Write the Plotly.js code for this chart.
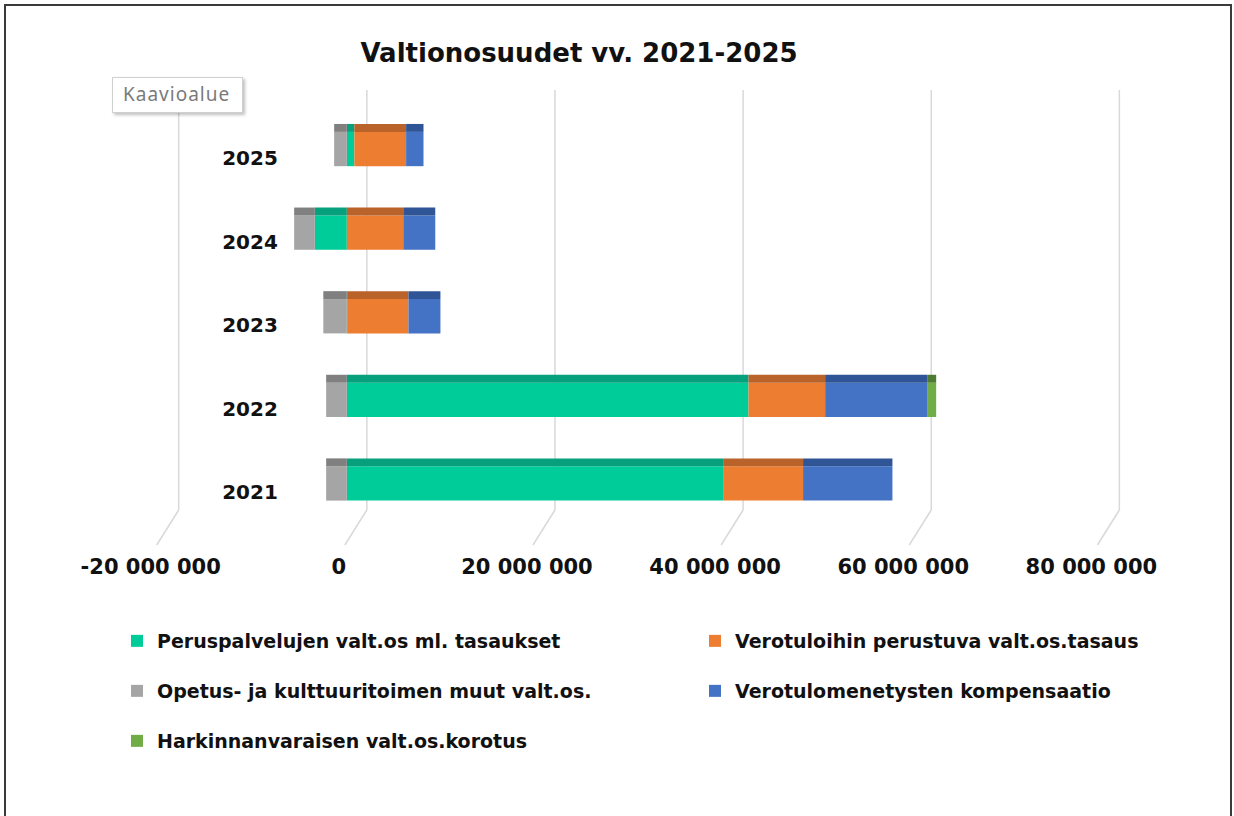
<!DOCTYPE html>
<html>
<head>
<meta charset="utf-8">
<script src="https://cdn.plot.ly/plotly-3.0.1.min.js"></script>
<style>
  html, body { margin: 0; padding: 0; width: 1234px; height: 816px; overflow: hidden; background: #fff; }
  #chart { position: absolute; left: 0; top: 0; width: 1234px; height: 816px; }
  #frame { position: absolute; left: 4px; top: 4px; width: 1224px; height: 900px; border: 2px solid #3a3a3a; pointer-events: none; }
  #tip { position: absolute; left: 112px; top: 77px; padding: 3px 12px 5px 10px; background: #fff;
         border: 1px solid #d0d0d0; box-shadow: 2px 2px 3px rgba(0,0,0,0.25);
         font-family: 'Noto Sans', sans-serif; font-size: 19px; letter-spacing: 1px; color: #7a7a7a; }
</style>
</head>
<body>
<div id="chart"></div>
<div id="frame"></div>
<div id="tip">Kaavioalue</div>
<script>
// ---- data ----
const years = ['2021', '2022', '2023', '2024', '2025'];
const peruspalvelut = [40.0e6, 42.7e6, 0.1e6, -3.4e6, 0.8e6];
const verotuloTasaus = [8.5e6, 8.15e6, 6.45e6, 6.0e6, 5.5e6];
const opetusKulttuuri = [-2.2e6, -2.2e6, -2.5e6, -2.2e6, -1.35e6];
const kompensaatio = [9.5e6, 10.9e6, 3.4e6, 3.4e6, 1.85e6];
const harkinnanvarainen = [0, 0.9e6, 0, 0, 0];

const seriesNames = [
  'Peruspalvelujen valt.os ml. tasaukset',
  'Verotuloihin perustuva valt.os.tasaus',
  'Opetus- ja kulttuuritoimen muut valt.os.',
  'Verotulomenetysten kompensaatio',
  'Harkinnanvaraisen valt.os.korotus'
];
const tickVals = [-20e6, 0, 20e6, 40e6, 60e6, 80e6];
const tickLabels = ['-20 000 000', '0', '20 000 000', '40 000 000', '60 000 000', '80 000 000'];

// ---- styling ----
const seriesValues = [peruspalvelut, verotuloTasaus, opetusKulttuuri, kompensaatio, harkinnanvarainen];
const frontColors = ['#00CC99', '#ED7D31', '#A5A5A5', '#4472C4', '#70AD47'];
const topColors = ['#06A07C', '#B9622A', '#808080', '#2F5597', '#4E7A32'];
const legendIds = ['legend', 'legend2', 'legend3', 'legend4', 'legend5'];
const legendPos = [[117, 641], [695, 641], [117, 691], [695, 691], [117, 741]];
const FONT = '"DejaVu Sans", Verdana, sans-serif';

const traces = [];
seriesValues.forEach((vals, i) => {
  traces.push({
    type: 'bar', orientation: 'h', name: seriesNames[i],
    y: years, x: vals, width: 0.41,
    marker: { color: frontColors[i], line: { width: 0 } },
    legend: legendIds[i], hoverinfo: 'name+x'
  });
});
// darker strips imitating the 3D top faces
seriesValues.forEach((vals, i) => {
  traces.push({
    type: 'bar', orientation: 'h', name: seriesNames[i],
    y: years, x: vals, yaxis: 'y2', width: 0.095, offset: 0.205,
    marker: { color: topColors[i], line: { width: 0 } },
    showlegend: false, hoverinfo: 'skip'
  });
});

// 3D-like gridlines: a floor diagonal and a back wall vertical at each tick
const shapes = [];
const floorTop = (545 - 510) / 455;
tickVals.forEach(v => {
  shapes.push({ type: 'line', xref: 'x', xsizemode: 'pixel', xanchor: v, x0: -2, x1: 20,
    yref: 'paper', y0: 0, y1: floorTop, line: { color: '#d9d9d9', width: 1.5 }, layer: 'below' });
  shapes.push({ type: 'line', xref: 'x', xsizemode: 'pixel', xanchor: v, x0: 20, x1: 20,
    yref: 'paper', y0: floorTop, y1: 1, line: { color: '#d9d9d9', width: 1.5 }, layer: 'below' });
});

const legendFont = { family: FONT, size: 19, color: '#111', weight: 'bold' };
const layout = {
  width: 1234, height: 816,
  margin: { l: 154, r: 97, t: 90, b: 271 },
  paper_bgcolor: '#fff', plot_bgcolor: '#fff',
  barmode: 'relative',
  showlegend: true,
  title: { text: 'Valtionosuudet vv. 2021-2025', xref: 'container', yref: 'container',
           x: 579 / 1234, y: 1 - 53 / 816, xanchor: 'center', yanchor: 'middle',
           font: { family: FONT, size: 26, color: '#111', weight: 'bold' } },
  xaxis: { range: [-20.5e6, 84e6], tickvals: tickVals, ticktext: tickLabels, showgrid: false,
           zeroline: false, showline: false, ticks: '', ticklabelstandoff: 7, ticklabelshift: -8,
           tickfont: { family: FONT, size: 21, color: '#111', weight: 'bold' } },
  yaxis: { type: 'category', range: [-0.736, 4.706], anchor: 'free', position: 0.126,
           showgrid: false, zeroline: false, showline: false, ticks: '', ticklabelshift: 9,
           tickfont: { family: FONT, size: 20, color: '#111', weight: 'bold' } },
  yaxis2: { type: 'category', overlaying: 'y', range: [-0.736, 4.706], visible: false,
            categoryarray: years, categoryorder: 'array' },
  shapes: shapes
};
legendIds.forEach((id, i) => {
  layout[id] = {
    orientation: 'h', xref: 'container', yref: 'container', xanchor: 'left', yanchor: 'middle',
    x: legendPos[i][0] / 1234, y: 1 - legendPos[i][1] / 816,
    font: legendFont, bgcolor: 'rgba(0,0,0,0)'
  };
});

Plotly.newPlot('chart', traces, layout, { displayModeBar: false, staticPlot: true });
</script>
</body>
</html>
